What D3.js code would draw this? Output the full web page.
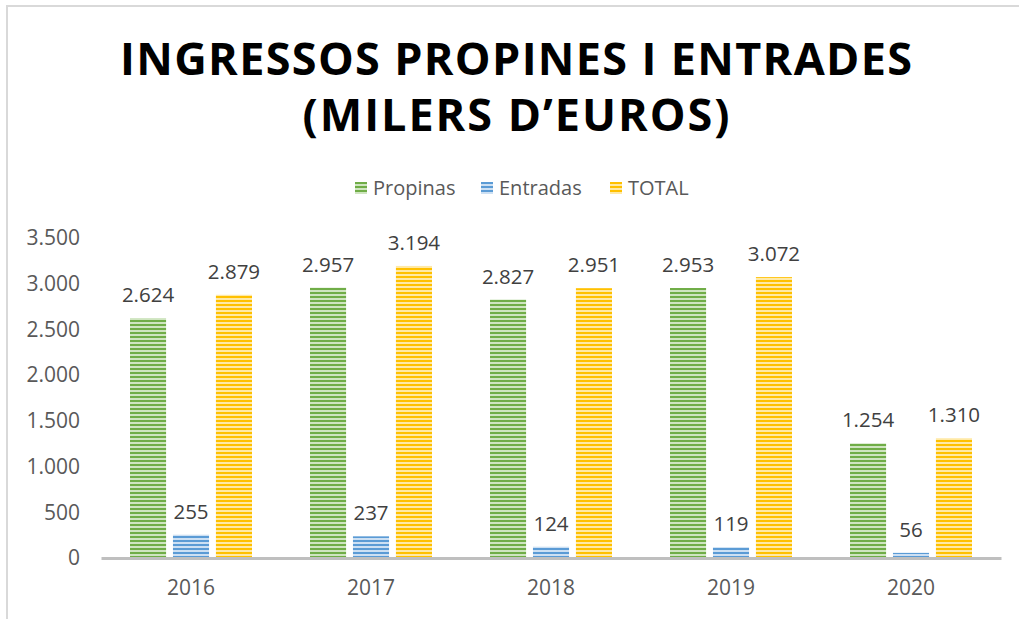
<!DOCTYPE html>
<html>
<head>
<meta charset="utf-8">
<script src="https://cdn.jsdelivr.net/npm/d3@7"></script>
<style>
  body { margin: 0; background: #fff; }
  text { font-family: "Open Sans", "Noto Sans", sans-serif; }
</style>
</head>
<body>
<div id="chart"></div>
<script>
// dades
const years = ["2016", "2017", "2018", "2019", "2020"];
const propinas = [2624, 2957, 2827, 2953, 1254];
const entradas = [255, 237, 124, 119, 56];
const total = [2879, 3194, 2951, 3072, 1310];
const seriesNames = ["Propinas", "Entradas", "TOTAL"];
const yTicks = [0, 500, 1000, 1500, 2000, 2500, 3000, 3500];

const width = 1019, height = 619;
const colors = {
  Propinas: ["#70ad47", "#cfe5c0"],
  Entradas: ["#5b9bd5", "#cde0f3"],
  TOTAL: ["#ffc000", "#ffe9a6"]
};

const svg = d3.select("#chart").append("svg")
  .attr("width", width).attr("height", height);

// patrons de ratlles horitzontals
const defs = svg.append("defs");
seriesNames.forEach((s, i) => {
  const p = defs.append("pattern")
    .attr("id", "pat" + i)
    .attr("patternUnits", "userSpaceOnUse")
    .attr("width", 8).attr("height", 4);
  p.append("rect").attr("width", 8).attr("height", 4).attr("fill", colors[s][1]);
  p.append("rect").attr("width", 8).attr("height", 2).attr("fill", colors[s][0]);
});

// marc
svg.append("rect")
  .attr("x", 7).attr("y", 6)
  .attr("width", width + 10).attr("height", height + 10)
  .attr("fill", "none").attr("stroke", "#d9d9d9").attr("stroke-width", 2);

// títol
const titleLines = [
  { t: "INGRESSOS PROPINES I ENTRADES", y: 75, w: 792 },
  { t: "(MILERS D\u2019EUROS)", y: 131, w: 427 }
];
svg.selectAll(".title").data(titleLines).enter().append("text")
  .attr("class", "title")
  .attr("x", d => 516 - d.w / 2).attr("y", d => d.y)
  .attr("textLength", d => d.w).attr("lengthAdjust", "spacing")
  .attr("font-size", 45).attr("font-weight", 700).attr("fill", "#000")
  .text(d => d.t);

// llegenda
const legendX = [355, 481, 610];
const lg = svg.selectAll(".lg").data(seriesNames).enter().append("g")
  .attr("transform", (d, i) => `translate(${legendX[i]},182)`);
lg.append("rect").attr("width", 12).attr("height", 12)
  .attr("fill", (d, i) => `url(#pat${i})`);
lg.append("text").attr("x", 18).attr("y", 13)
  .attr("font-size", 20).attr("fill", "#595959").text(d => d);

// escales
const x = d3.scaleBand().domain(years).range([101, 1001]);
const xs = d3.scaleBand().domain(seriesNames)
  .range([29, 151]).paddingInner(0.16);
const y = d3.scaleLinear().domain([0, 3500]).range([558, 238]);

// eix Y (etiquetes)
const yAxis = svg.append("g")
  .attr("transform", "translate(86,0)")
  .call(d3.axisLeft(y).tickValues(yTicks).tickSize(0).tickPadding(6)
    .tickFormat(d => d3.format(",")(d).replace(/,/g, ".")));
yAxis.select(".domain").remove();
yAxis.selectAll("text").attr("font-size", 21).attr("fill", "#595959")
  .attr("font-family", "\"Open Sans\", sans-serif");

// barres
const data = [];
years.forEach((yr, i) => {
  data.push({ yr, s: "Propinas", si: 0, v: propinas[i] });
  data.push({ yr, s: "Entradas", si: 1, v: entradas[i] });
  data.push({ yr, s: "TOTAL", si: 2, v: total[i] });
});

svg.selectAll(".bar").data(data).enter().append("rect")
  .attr("class", "bar")
  .attr("x", d => x(d.yr) + xs(d.s))
  .attr("y", d => y(d.v))
  .attr("width", xs.bandwidth())
  .attr("height", d => y(0) - y(d.v))
  .attr("fill", d => `url(#pat${d.si})`);

// etiquetes de dades
svg.selectAll(".lbl").data(data).enter().append("text")
  .attr("x", d => x(d.yr) + xs(d.s) + xs.bandwidth() / 2)
  .attr("y", d => y(d.v) - 16)
  .attr("text-anchor", "middle")
  .attr("font-size", 20.5).attr("fill", "#404040")
  .text(d => d3.format(",")(d.v).replace(/,/g, "."));

// eix X
const xAxis = svg.append("g")
  .attr("transform", `translate(0,${y(0)})`)
  .call(d3.axisBottom(x).tickSize(0).tickPadding(22));
xAxis.select(".domain").attr("stroke", "#bfbfbf").attr("stroke-width", 3);
xAxis.selectAll("text").attr("font-size", 21).attr("fill", "#595959")
  .attr("font-family", "\"Open Sans\", sans-serif");
</script>
</body>
</html>
